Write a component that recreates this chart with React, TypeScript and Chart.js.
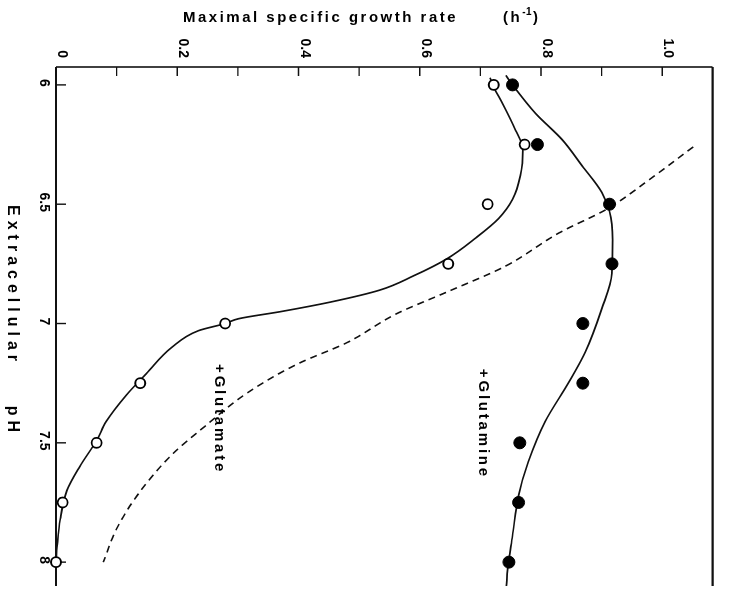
import React, { useEffect, useRef } from 'react';
import { Chart, registerables } from 'chart.js';

Chart.register(...registerables);

// Measured maximal specific growth rates (h^-1) at each extracellular pH
const phMeasured = [6.0, 6.25, 6.5, 6.75, 7.0, 7.25, 7.5, 7.75, 8.0];
const glutamineRate = [0.753, 0.794, 0.913, 0.917, 0.869, 0.869, 0.765, 0.763, 0.747];
const glutamateRate = [0.722, 0.773, 0.712, 0.647, 0.279, 0.139, 0.067, 0.011, 0.0];

// Hand-fitted curve through the +glutamine points
const glutamineCurvePh = [5.96, 6.0, 6.12, 6.23, 6.34, 6.45, 6.53, 6.65, 6.79, 6.94, 7.12, 7.25, 7.41, 7.58, 7.72, 7.89, 8.03, 8.1];
const glutamineCurveRate = [0.742, 0.753, 0.791, 0.835, 0.868, 0.9, 0.913, 0.918, 0.917, 0.9, 0.873, 0.845, 0.807, 0.779, 0.763, 0.753, 0.745, 0.743];

// Hand-fitted curve through the +glutamate points
const glutamateCurvePh = [5.97, 6.01, 6.08, 6.19, 6.27, 6.38, 6.48, 6.56, 6.64, 6.73, 6.8, 6.86, 6.91, 6.95, 6.98, 7.0, 7.03, 7.1, 7.21, 7.3, 7.41, 7.49, 7.6, 7.7, 7.82, 7.93, 8.0];
const glutamateCurveRate = [0.716, 0.722, 0.737, 0.758, 0.77, 0.766, 0.753, 0.73, 0.693, 0.644, 0.59, 0.534, 0.453, 0.371, 0.301, 0.279, 0.235, 0.191, 0.149, 0.116, 0.083, 0.067, 0.039, 0.018, 0.007, 0.002, 0.0];

// Dashed reference curve
const dashedCurvePh = [6.26, 6.4, 6.52, 6.62, 6.76, 6.87, 6.96, 7.08, 7.17, 7.29, 7.43, 7.55, 7.71, 7.86, 8.0];
const dashedCurveRate = [1.051, 0.977, 0.909, 0.83, 0.741, 0.643, 0.561, 0.48, 0.398, 0.316, 0.246, 0.191, 0.137, 0.1, 0.078];

// Axis ticks
const phTicks = [6, 6.5, 7, 7.5, 8];
const phTickLabels = ['6', '6.5', '7', '7.5', '8'];
const rateTicks = [0, 0.2, 0.4, 0.6, 0.8, 1.0];
const rateTickLabels = ['0', '0.2', '0.4', '0.6', '0.8', '1.0'];

// Axis ranges
const PH_MIN = 5.925;
const PH_MAX = 8.1;
const RATE_MIN = 0;
const RATE_MAX = 1.083;

// Series annotations (anchored in data units)
const glutamineLabel = { text: '+Glutamine', ph: 7.19, rate: 0.698 };
const glutamateLabel = { text: '+Glutamate', ph: 7.17, rate: 0.262 };

const FONT = '"Liberation Sans", Arial, Helvetica, sans-serif';

// The chart is laid out with pH along the canvas x axis and then the whole
// canvas is turned a quarter turn clockwise, so pH runs down the page and
// the growth rate runs left to right along the top.
const CANVAS_W = 593;
const CANVAS_H = 730;

const toXY = (xs: number[], ys: number[]) => xs.map((x, i) => ({ x, y: ys[i] }));

const framePlugin = {
  id: 'frameAndLettering',
  beforeDatasetsDraw(chart: any) {
    const { ctx, chartArea, scales } = chart;
    const xs = scales.x;
    const ys = scales.y;
    ctx.save();
    ctx.strokeStyle = '#111';
    ctx.lineCap = 'butt';

    // growth-rate axis line (top of page)
    ctx.lineWidth = 1.6;
    ctx.beginPath();
    ctx.moveTo(chartArea.left, chartArea.bottom);
    ctx.lineTo(chartArea.left, chartArea.top);
    ctx.stroke();

    // pH axis line (left of page) and far frame edge (right of page)
    ctx.lineWidth = 2.2;
    ctx.beginPath();
    ctx.moveTo(chartArea.left, chartArea.bottom);
    ctx.lineTo(chartArea.right, chartArea.bottom);
    ctx.moveTo(chartArea.left, chartArea.top);
    ctx.lineTo(chartArea.right, chartArea.top);
    ctx.stroke();

    // inward tick marks on the growth-rate axis (every 0.1)
    ctx.lineWidth = 1.4;
    ctx.beginPath();
    ys.ticks.forEach((t: any) => {
      const v = ys.getPixelForValue(t.value);
      ctx.moveTo(chartArea.left, v);
      ctx.lineTo(chartArea.left + 9, v);
    });
    // inward tick marks on the pH axis
    phTicks.forEach((p) => {
      const u = xs.getPixelForValue(p);
      ctx.moveTo(u, chartArea.bottom);
      ctx.lineTo(u, chartArea.bottom - 10);
    });
    ctx.stroke();
    ctx.restore();
  },
  afterDraw(chart: any) {
    const { ctx, scales, height } = chart;
    const xs = scales.x;
    const ys = scales.y;

    // Growth-rate axis title, written upright on the page
    ctx.save();
    ctx.translate(0, height);
    ctx.rotate(-Math.PI / 2);
    ctx.fillStyle = '#000';
    ctx.textBaseline = 'alphabetic';
    ctx.textAlign = 'left';
    ctx.font = `bold 15px ${FONT}`;
    (ctx as any).letterSpacing = '2.5px';
    ctx.fillText('Maximal specific growth rate', 183, 22);
    let px = 503;
    ctx.fillText('(h', px, 22);
    px += ctx.measureText('(h').width;
    ctx.font = `bold 10px ${FONT}`;
    (ctx as any).letterSpacing = '0.5px';
    ctx.fillText('-1', px, 15);
    px += ctx.measureText('-1').width + 1;
    ctx.font = `bold 15px ${FONT}`;
    (ctx as any).letterSpacing = '2.5px';
    ctx.fillText(')', px, 22);
    ctx.restore();

    // pH axis title
    ctx.save();
    ctx.fillStyle = '#000';
    ctx.textBaseline = 'alphabetic';
    ctx.font = `bold 16px ${FONT}`;
    (ctx as any).letterSpacing = '5px';
    ctx.textAlign = 'left';
    ctx.fillText('Extracellular', 205, 722);
    ctx.textAlign = 'right';
    ctx.fillText('pH', 437, 722);

    // series annotations
    ctx.font = `bold 15px ${FONT}`;
    ctx.textAlign = 'left';
    (ctx as any).letterSpacing = '2.8px';
    [glutamineLabel, glutamateLabel].forEach((l) => {
      ctx.fillText(l.text, xs.getPixelForValue(l.ph), ys.getPixelForValue(l.rate));
    });
    ctx.restore();
  },
};

export default function App() {
  const canvasRef = useRef<HTMLCanvasElement | null>(null);

  useEffect(() => {
    const canvas = canvasRef.current;
    if (!canvas) return;

    const lineCommon = {
      type: 'line' as const,
      showLine: true,
      pointRadius: 0,
      pointHoverRadius: 0,
      borderColor: '#111',
      borderWidth: 1.7,
      fill: false,
      cubicInterpolationMode: 'monotone' as const,
      order: 2,
    };

    const chart = new Chart(canvas, {
      type: 'line',
      data: {
        datasets: [
          { ...lineCommon, label: 'Glutamine fit', data: toXY(glutamineCurvePh, glutamineCurveRate) },
          { ...lineCommon, label: 'Glutamate fit', data: toXY(glutamateCurvePh, glutamateCurveRate) },
          {
            ...lineCommon,
            label: 'Dashed',
            borderWidth: 1.6,
            borderDash: [7, 5],
            data: toXY(dashedCurvePh, dashedCurveRate),
          },
          {
            type: 'line',
            label: '+Glutamine',
            showLine: false,
            data: toXY(phMeasured, glutamineRate),
            pointRadius: 6,
            pointBackgroundColor: '#000',
            pointBorderColor: '#000',
            pointBorderWidth: 1,
            clip: false,
            order: 1,
          },
          {
            type: 'line',
            label: '+Glutamate',
            showLine: false,
            data: toXY(phMeasured, glutamateRate),
            pointRadius: 5,
            pointBackgroundColor: '#fff',
            pointBorderColor: '#000',
            pointBorderWidth: 1.8,
            clip: false,
            order: 0,
          },
        ],
      },
      options: {
        animation: false,
        responsive: false,
        devicePixelRatio: 1,
        events: [],
        layout: { padding: { top: 10, right: 0, left: 0, bottom: 0 } },
        plugins: {
          legend: { display: false },
          tooltip: { enabled: false },
        },
        scales: {
          x: {
            type: 'linear',
            position: 'bottom',
            min: PH_MIN,
            max: PH_MAX,
            grid: { display: false, drawTicks: false },
            border: { display: false },
            afterBuildTicks: (scale: any) => {
              scale.ticks = phTicks.map((v) => ({ value: v }));
            },
            afterFit: (scale: any) => {
              scale.height = 56;
            },
            ticks: {
              padding: 4,
              labelOffset: -2,
              color: '#000',
              maxRotation: 0,
              minRotation: 0,
              autoSkip: false,
              font: { family: FONT, size: 14, weight: 'bold' },
              callback: (value: any) => {
                const i = phTicks.findIndex((p) => Math.abs(p - Number(value)) < 1e-6);
                return i >= 0 ? phTickLabels[i] : '';
              },
            },
          },
          y: {
            type: 'linear',
            min: RATE_MIN,
            max: RATE_MAX,
            grid: { display: false, drawTicks: false },
            border: { display: false },
            afterFit: (scale: any) => {
              scale.width = 67;
            },
            ticks: {
              stepSize: 0.1,
              includeBounds: false,
              padding: 9,
              labelOffset: -6,
              color: '#000',
              autoSkip: false,
              font: { family: FONT, size: 14, weight: 'bold' },
              callback: (value: any) => {
                const i = rateTicks.findIndex((r) => Math.abs(r - Number(value)) < 1e-6);
                return i >= 0 ? rateTickLabels[i] : '';
              },
            },
          },
        },
      } as any,
      plugins: [framePlugin],
    });

    return () => chart.destroy();
  }, []);

  return (
    <div
      style={{
        position: 'fixed',
        left: 0,
        top: 0,
        width: 730,
        height: 593,
        overflow: 'hidden',
        background: '#fff',
      }}
    >
      <div
        style={{
          position: 'absolute',
          left: 0,
          top: 0,
          width: CANVAS_W,
          height: CANVAS_H,
          transformOrigin: '0 0',
          transform: `translateX(${CANVAS_H}px) rotate(90deg)`,
        }}
      >
        <canvas ref={canvasRef} width={CANVAS_W} height={CANVAS_H} style={{ width: CANVAS_W, height: CANVAS_H, display: 'block' }} />
      </div>
    </div>
  );
}
